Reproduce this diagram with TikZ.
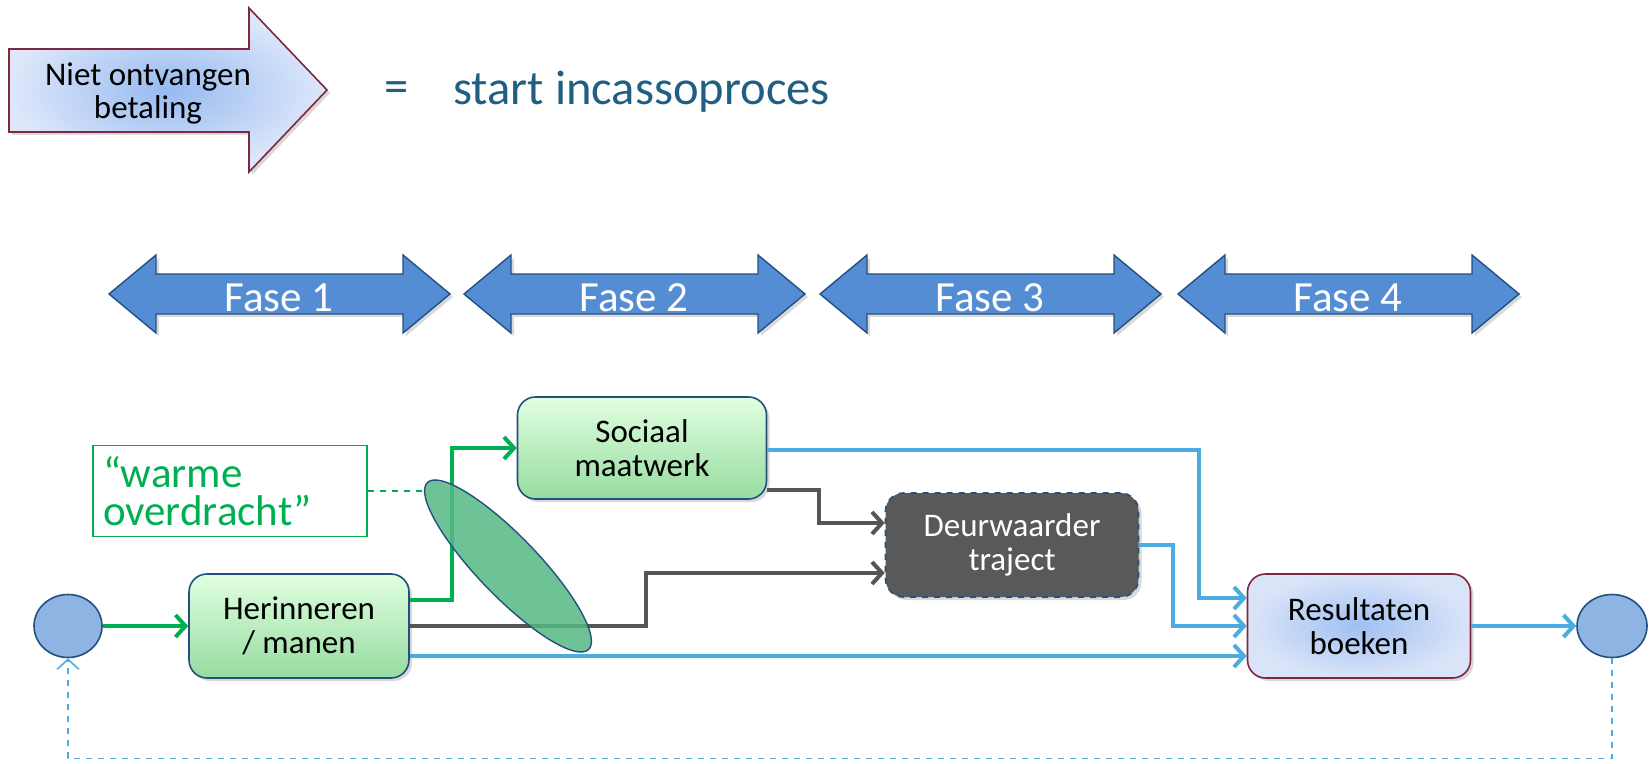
\documentclass[tikz,border=0pt]{standalone}
\usepackage{fontspec}
\setmainfont{Carlito}
\usepackage{tikz}
\usetikzlibrary{arrows.meta,shapes.geometric,shadows}

\definecolor{lijnblauw}{RGB}{75,172,226}
\definecolor{lijngrijs}{RGB}{85,85,85}
\definecolor{lijngroen}{RGB}{0,176,80}
\definecolor{randblauw}{RGB}{36,80,128}
\definecolor{randrood}{RGB}{125,40,64}
\definecolor{fase}{RGB}{84,141,212}
\definecolor{kop}{RGB}{31,95,130}
\definecolor{donker}{RGB}{89,89,89}

\begin{document}
\begin{tikzpicture}[x=0.5pt,y=-0.5pt,>={Straight Barb[length=5pt,width=11pt]}]
  \tikzstyle{every node}=[font=\fontsize{16.5}{17}\selectfont]
  \tikzstyle{schaduw}=[drop shadow={shadow xshift=1.5pt,shadow yshift=-1.5pt,opacity=0.3}]
  \tikzstyle{vak}=[rectangle,rounded corners=9pt,draw=randblauw,line width=0.8pt,
                   align=center,minimum width=110pt,minimum height=52pt,schaduw]
  \tikzstyle{stap}=[vak,top color=green!12!white,bottom color={rgb,255:red,150;green,220;blue,160}]
  \tikzstyle{boek}=[vak,draw=randrood,shading=radial,inner color={rgb,255:red,160;green,192;blue,242},
                    outer color={rgb,255:red,218;green,228;blue,248}]
  \tikzstyle{eind}=[ellipse,draw=randblauw,line width=0.8pt,fill={rgb,255:red,141;green,180;blue,226},
                    minimum width=34pt,minimum height=31.5pt,inner sep=0pt]
  \tikzstyle{pijl}=[line width=2pt,->]
  \tikzstyle{groen}=[pijl,lijngroen]
  \tikzstyle{grijs}=[pijl,lijngrijs]
  \tikzstyle{blauw}=[pijl,lijnblauw]

  \useasboundingbox (0,0) rectangle (1652,764);

  % start: niet ontvangen betaling
  \path[draw=randrood,line width=0.8pt,shading=radial,
        inner color={rgb,255:red,150;green,186;blue,240},
        outer color={rgb,255:red,222;green,231;blue,250},schaduw]
    (9,49) -- (249,49) -- (249,8) -- (327,90) -- (249,172) -- (249,132) -- (9,132) -- cycle;
  \node[align=center] (betaling) at (148,93) {Niet ontvangen\\[-0.5pt]betaling};
  \node[kop,font=\fontsize{24.3}{24}\selectfont] (is) at (397,92) {=};
  \node[kop,font=\fontsize{24.3}{24}\selectfont,anchor=west,inner sep=0pt] (proces) at (453,92) {start incassoproces};

  % fasen
  \foreach \i/\x in {1/109,2/464,3/820,4/1178}{
    \path[fill=fase,draw=randblauw,line width=0.7pt,schaduw]
      (\x,294) -- (\x+47,255) -- (\x+47,274) -- (\x+294,274) -- (\x+294,255) -- (\x+341,294)
      -- (\x+294,333) -- (\x+294,314) -- (\x+47,314) -- (\x+47,333) -- cycle;
    \node[white,font=\fontsize{21.5}{21.5}\selectfont] (fase\i) at (\x+170,298) {Fase \i};
  }

  % processtappen
  \node[eind] (begin) at (68,626) {};
  \node[stap] (herinneren) at (299,626) {Herinneren\\/ manen};
  \node[stap,minimum width=124.5pt,minimum height=51pt] (sociaal) at (642,448) {Sociaal\\maatwerk};
  \node[vak,fill=donker,dashed,text=white,
        minimum width=126.5pt] (deurwaarder) at (1012,545) {Deurwaarder\\traject};
  \node[boek,minimum width=111.5pt] (resultaten) at (1359,626) {Resultaten\\boeken};
  \node[eind,minimum width=35pt] (einde) at (1612,626) {};
  \node[draw=lijngroen,line width=0.8pt,text=lijngroen,align=left,text width=127pt,inner xsep=5pt,
        minimum height=45.5pt,font=\fontsize{21.5}{19}\selectfont] (warm) at (230,491) {“warme\\overdracht”};

  % verbindingen
  \draw[groen] (begin) -- (herinneren);
  \draw[groen] ([yshift=13pt]herinneren.east) -- ++(21pt,0) |- (sociaal.west);
  \draw[grijs] (herinneren.east) -- ++(118pt,0) |- ([yshift=-14pt]deurwaarder.west);
  \draw[blauw] ([yshift=-15pt]herinneren.east) -- ([yshift=-15pt]resultaten.west);
  \draw[blauw] ([yshift=-1pt]sociaal.east) -- ++(216pt,0) |- ([yshift=14pt]resultaten.west);
  \draw[grijs] ([yshift=-21pt]sociaal.east) -- ++(26pt,0) |- ([yshift=11pt]deurwaarder.west);
  \draw[blauw] (deurwaarder.east) -- ++(17pt,0) |- (resultaten.west);
  \draw[blauw] (resultaten.east) -- (einde.west);
  \draw[lijnblauw,line width=0.8pt,dashed,->] (einde.south) -- ++(0,-50pt) -| (begin.south);

  % warme overdracht
  \node[ellipse,draw=randblauw,line width=0.7pt,fill={rgb,255:red,84;green,184;blue,130},fill opacity=0.85,
        minimum width=116pt,minimum height=30pt,rotate=-46] (overdracht) at (508,566) {};
  \draw[lijngroen,line width=0.7pt,dashed] (warm.east) -- ++(29pt,0);
\end{tikzpicture}
\end{document}
